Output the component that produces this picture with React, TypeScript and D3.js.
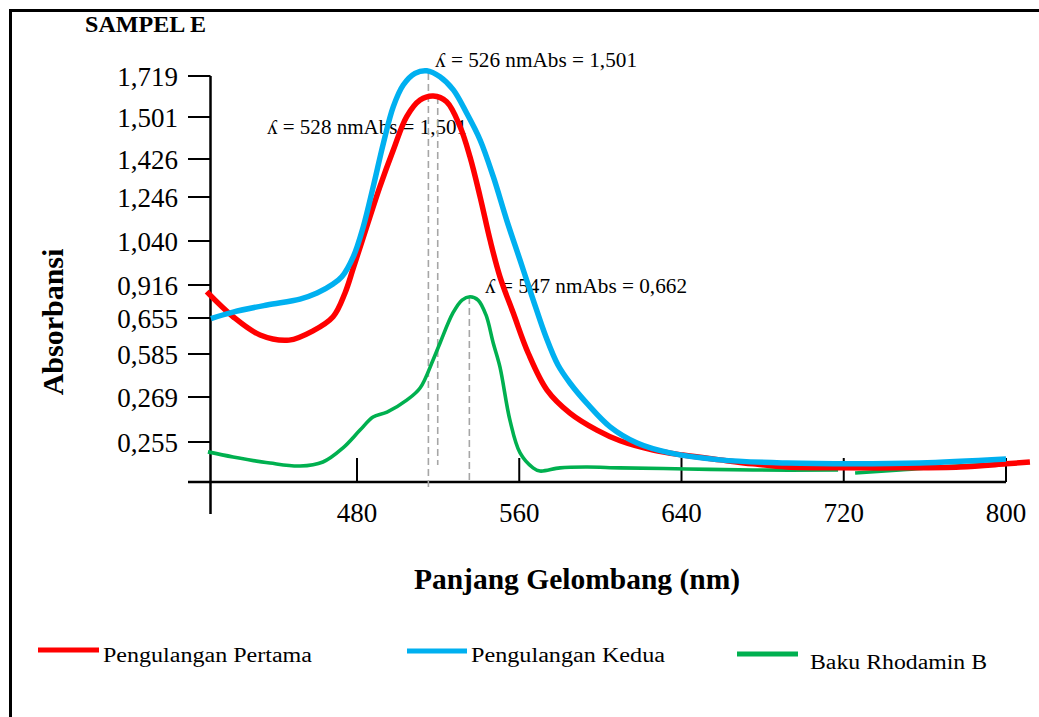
import React from "react";
import * as d3 from "d3";

// ---- data (wavelength in nm, absorbance) ----
const wlTicks = [480, 560, 640, 720, 800];
const absTicks = [0.255, 0.269, 0.585, 0.655, 0.916, 1.04, 1.246, 1.426, 1.501, 1.719];
const absTickLabels = ["0,255", "0,269", "0,585", "0,655", "0,916", "1,040", "1,246", "1,426", "1,501", "1,719"];

const redWl = [405.9, 418.9, 432.2, 446.5, 458.3, 468.2, 474.1, 478.2, 484.8, 491.3, 497.9, 504.5, 511.1, 517.6, 524.2, 530.8, 535.7, 540.7, 545.6, 550.5, 557.1, 564.5, 573.7, 585.0, 598.3, 609.7, 626.0, 640.7, 659.0, 675.3, 692.0, 718.2, 747.7, 777.3, 800, 811.8];
const redAbs = [0.863, 0.665, 0.622, 0.612, 0.63, 0.665, 0.853, 0.964, 1.107, 1.295, 1.442, 1.503, 1.591, 1.613, 1.582, 1.484, 1.43, 1.247, 1.045, 0.939, 0.692, 0.586, 0.32, 0.264, 0.2587, 0.2554, 0.252, 0.2501, 0.2483, 0.2468, 0.2456, 0.2453, 0.2453, 0.2456, 0.2468, 0.2475];

const blueWl = [408.0, 418.9, 435.6, 451.9, 460.3, 468.2, 472.5, 478.2, 483.1, 488.0, 493.0, 497.9, 502.8, 508.6, 514.4, 520.9, 527.5, 534.1, 540.7, 547.2, 553.8, 560.4, 566.9, 573.2, 579.1, 585.0, 593.4, 604.8, 618.1, 634.3, 659.0, 692.0, 724.6, 757.6, 800];
const blueAbs = [0.654, 0.702, 0.758, 0.805, 0.853, 0.919, 0.939, 0.996, 1.107, 1.295, 1.454, 1.556, 1.671, 1.733, 1.747, 1.715, 1.645, 1.521, 1.46, 1.342, 1.138, 0.986, 0.797, 0.618, 0.504, 0.372, 0.267, 0.2597, 0.2546, 0.2509, 0.2483, 0.2471, 0.2468, 0.2471, 0.2486];

const greenWl = [406.5, 418.9, 437.1, 451.9, 463.2, 473.1, 481.5, 487.9, 494.8, 504.7, 511.1, 517.5, 520.9, 527.3, 531.8, 535.7, 539.7, 543.6, 547.2, 550.5, 555.4, 560.4, 566.8, 570.2, 580.1, 593.4, 609.7, 642.7, 675.3, 717.2];
const greenAbs = [0.2513, 0.2494, 0.2471, 0.246, 0.2475, 0.2528, 0.2587, 0.2628, 0.2643, 0.2681, 0.335, 0.541, 0.606, 0.695, 0.797, 0.823, 0.797, 0.679, 0.606, 0.489, 0.2618, 0.2509, 0.2453, 0.2441, 0.2453, 0.2456, 0.2453, 0.2449, 0.2445, 0.2445];

const greenTailWl = [725.6, 747.7, 767.5, 797.1];
const greenTailAbs = [0.2434, 0.2445, 0.2456, 0.2468];

const markerWl = [515.2, 519.8, 535.4];
const markerTop = [1.735, 1.607, 0.821];
const markerBottom = [0.237, 0.2464, 0.24];

const annotations = [
  "\u028E = 526 nmAbs = 1,501",
  "\u028E = 528 nmAbs = 1,501",
  "\u028E = 547 nmAbs = 0,662",
];

const seriesNames = ["Pengulangan Pertama", "Pengulangan Kedua", "Baku Rhodamin B"];
const seriesColors = ["#ff0000", "#00b0f0", "#00b050"];

// ---- layout ----
const W = 1039;
const H = 717;
const serif = "'Liberation Serif', 'Times New Roman', serif";

const x = d3.scaleLinear().domain([480, 800]).range([357, 1006]);
const y = d3
  .scaleLinear()
  .domain([0.24, ...absTicks])
  .range([482, 442, 397, 354, 318, 285, 241, 197, 159, 117, 76]);

const zip = (a: number[], b: number[]) => a.map((v, i) => [v, b[i]] as [number, number]);
const line = d3
  .line<[number, number]>()
  .x((d) => x(d[0]))
  .y((d) => y(d[1]))
  .curve(d3.curveCatmullRom.alpha(0.5));

export default function App() {
  const axisX0 = 210.5;
  const axisY0 = 482;
  const annPos = [
    { x: 435, y: 67, len: 202 },
    { x: 267, y: 134, len: 200 },
    { x: 485, y: 293, len: 202 },
  ];
  const legend = [
    { x1: 38, x2: 99, ly: 650, tx: 103, ty: 662, len: 209 },
    { x1: 407, x2: 467, ly: 651, tx: 471, ty: 662, len: 194 },
    { x1: 737, x2: 798, ly: 654, tx: 810, ty: 669, len: 177 },
  ];
  return (
    <svg
      width={W}
      height={H}
      style={{ position: "absolute", left: 0, top: 0, background: "#fff" }}
    >
      <defs>
        <filter id="soft" x="-5%" y="-20%" width="110%" height="140%">
          <feGaussianBlur stdDeviation="0.7" />
        </filter>
      </defs>
      <rect x={0} y={0} width={W} height={H} fill="#fff" />
      {/* frame */}
      <rect x={10.5} y={10.5} width={1100} height={800} fill="none" stroke="#000" strokeWidth={3} />

      {/* title */}
      <text x={85} y={32} fontFamily={serif} fontWeight="bold" fontSize={23} textLength={121} lengthAdjust="spacingAndGlyphs" fill="#000">
        SAMPEL E
      </text>

      {/* y axis */}
      <line x1={axisX0} x2={axisX0} y1={76} y2={514} stroke="#000" strokeWidth={2.5} />
      {absTicks.map((v, i) => (
        <g key={"yt" + i}>
          <line x1={188} x2={axisX0} y1={y(v)} y2={y(v)} stroke="#000" strokeWidth={2} />
          <text
            x={178}
            y={y(v) + 10}
            textAnchor="end"
            fontFamily={serif}
            fontSize={27}
            fill="#000"
          >
            {absTickLabels[i]}
          </text>
        </g>
      ))}

      {/* x axis */}
      <line x1={188} x2={x(800)} y1={axisY0} y2={axisY0} stroke="#000" strokeWidth={2.5} />
      {wlTicks.map((t) => (
        <g key={"xt" + t}>
          <line x1={x(t)} x2={x(t)} y1={458} y2={axisY0} stroke="#000" strokeWidth={2} />
          <text x={x(t)} y={522} textAnchor="middle" fontFamily={serif} fontSize={27} fill="#000">
            {t}
          </text>
        </g>
      ))}

      {/* axis titles */}
      <text
        x={577}
        y={589}
        textAnchor="middle"
        fontFamily={serif}
        fontWeight="bold"
        fontSize={29.5}
        fill="#000"
      >
        Panjang Gelombang (nm)
      </text>
      <text
        transform="translate(63,322) rotate(-90)"
        textAnchor="middle"
        fontFamily={serif}
        fontWeight="bold"
        fontSize={30}
        fill="#000"
      >
        Absorbansi
      </text>

      {/* annotations */}
      {annotations.map((a, i) => (
        <text
          key={"an" + i}
          x={annPos[i].x}
          y={annPos[i].y}
          fontFamily={serif}
          fontSize={20}
          textLength={annPos[i].len}
          lengthAdjust="spacingAndGlyphs"
          fill="#000"
        >
          {a}
        </text>
      ))}

      {/* dashed peak markers */}
      {markerWl.map((w, i) => (
        <line
          key={"mk" + i}
          x1={x(w)}
          x2={x(w)}
          y1={y(markerTop[i])}
          y2={y(markerBottom[i])}
          stroke="#a6a6a6"
          strokeWidth={1.6}
          strokeDasharray="7,4"
        />
      ))}

      {/* curves */}
      <path
        d={line(zip(greenWl, greenAbs)) || ""}
        fill="none"
        stroke={seriesColors[2]}
        strokeWidth={3.6}
        filter="url(#soft)"
      />
      <path
        d={line(zip(greenTailWl, greenTailAbs)) || ""}
        fill="none"
        stroke={seriesColors[2]}
        strokeWidth={3.6}
      />
      <path
        d={line(zip(redWl, redAbs)) || ""}
        fill="none"
        stroke={seriesColors[0]}
        strokeWidth={5.5}
      />
      <path
        d={line(zip(blueWl, blueAbs)) || ""}
        fill="none"
        stroke={seriesColors[1]}
        strokeWidth={5.5}
      />

      {/* legend */}
      {legend.map((l, i) => (
        <g key={"lg" + i}>
          <line x1={l.x1} x2={l.x2} y1={l.ly} y2={l.ly} stroke={seriesColors[i]} strokeWidth={5} />
          <text
            x={l.tx}
            y={l.ty}
            fontFamily={serif}
            fontSize={20}
            textLength={l.len}
            lengthAdjust="spacingAndGlyphs"
            fill="#000"
          >
            {seriesNames[i]}
          </text>
        </g>
      ))}
    </svg>
  );
}
